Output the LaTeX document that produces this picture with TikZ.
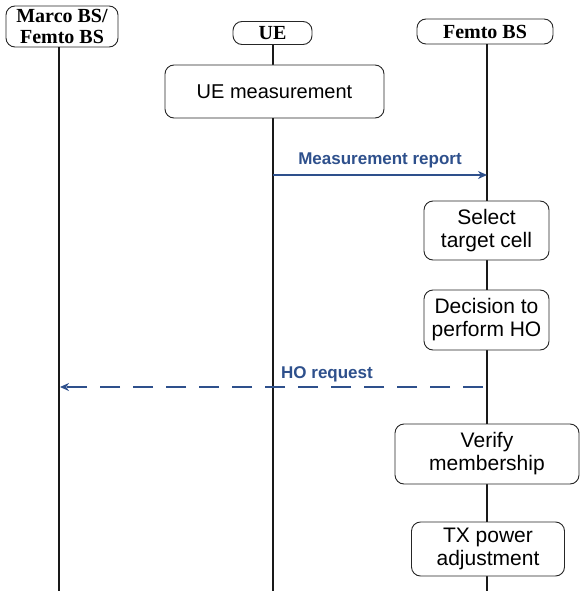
\documentclass[tikz,border=0pt]{standalone}
\usepackage{fontspec}
\setmainfont{Liberation Sans}
\newfontfamily\hdrfont{Liberation Serif}
\usetikzlibrary{arrows.meta}
\definecolor{msgblue}{RGB}{46,80,140}
\tikzset{
  hdr/.style={draw=black!85, line width=0.9pt, rounded corners=9pt, fill=white, align=center,
    font=\hdrfont\bfseries\fontsize{20}{21}\selectfont, inner sep=0pt},
  act/.style={draw=black!85, line width=0.9pt, rounded corners=9pt, fill=white, align=center,
    font=\fontsize{21}{23}\selectfont, inner sep=0pt},
  life/.style={line width=1.3pt, black!90},
  msg/.style={line width=2pt, msgblue, -{Stealth[length=9pt,width=8pt]}},
  msgdash/.style={msg, line width=2.6pt, dash pattern=on 20pt off 13pt},
  lbl/.style={font=\bfseries\fontsize{17}{19}\selectfont, text=msgblue, inner sep=0pt}
}
\begin{document}
\begin{tikzpicture}[x=1pt,y=-1pt]
\useasboundingbox (0,0) rectangle (580,591);
% headers
\node[hdr, minimum width=112pt, minimum height=41pt] (mbs) at (62,26.5) {Marco BS/\\Femto BS};
\node[hdr, minimum width=79pt, minimum height=23pt] (ue) at (272.5,33) {UE};
\node[hdr, minimum width=136pt, minimum height=25pt] (fbs) at (485,31.5) {Femto BS};
% lifeline end points
\coordinate (mbsend) at (59,591);
\coordinate (ueend) at (273,591);
\coordinate (fbsend) at (487,591);
\draw[life] (mbs.south -| mbsend) -- (mbsend);
\draw[life] (ue.south -| ueend) -- (ueend);
\draw[life] (fbs.south -| fbsend) -- (fbsend);
% action boxes
\node[act, font=\fontsize{20}{22}\selectfont, minimum width=219pt, minimum height=53pt] (uem) at (274.5,91.5) {UE measurement};
\node[act, minimum width=125pt, minimum height=59pt] (sel) at (486.5,230.5) {Select\\target cell};
\node[act, minimum width=125pt, minimum height=60pt] (dec) at (486.5,320) {Decision to\\perform HO};
\node[act, minimum width=184pt, minimum height=60pt] (ver) at (487,454) {Verify\\membership};
\node[act, minimum width=153pt, minimum height=54pt] (txp) at (488,549) {TX power\\adjustment};
% messages
\coordinate (mrs) at (273,175);
\coordinate (mre) at (487,175);
\draw[msg] (mrs) -- (mre);
\node[lbl] (mrl) at (380,160) {Measurement report};
\coordinate (hos) at (483,387);
\coordinate (hoe) at (60,387);
\draw[msgdash] (hos) -- (hoe);
\node[lbl] (hol) at (327,374.5) {HO request};
\end{tikzpicture}
\end{document}
